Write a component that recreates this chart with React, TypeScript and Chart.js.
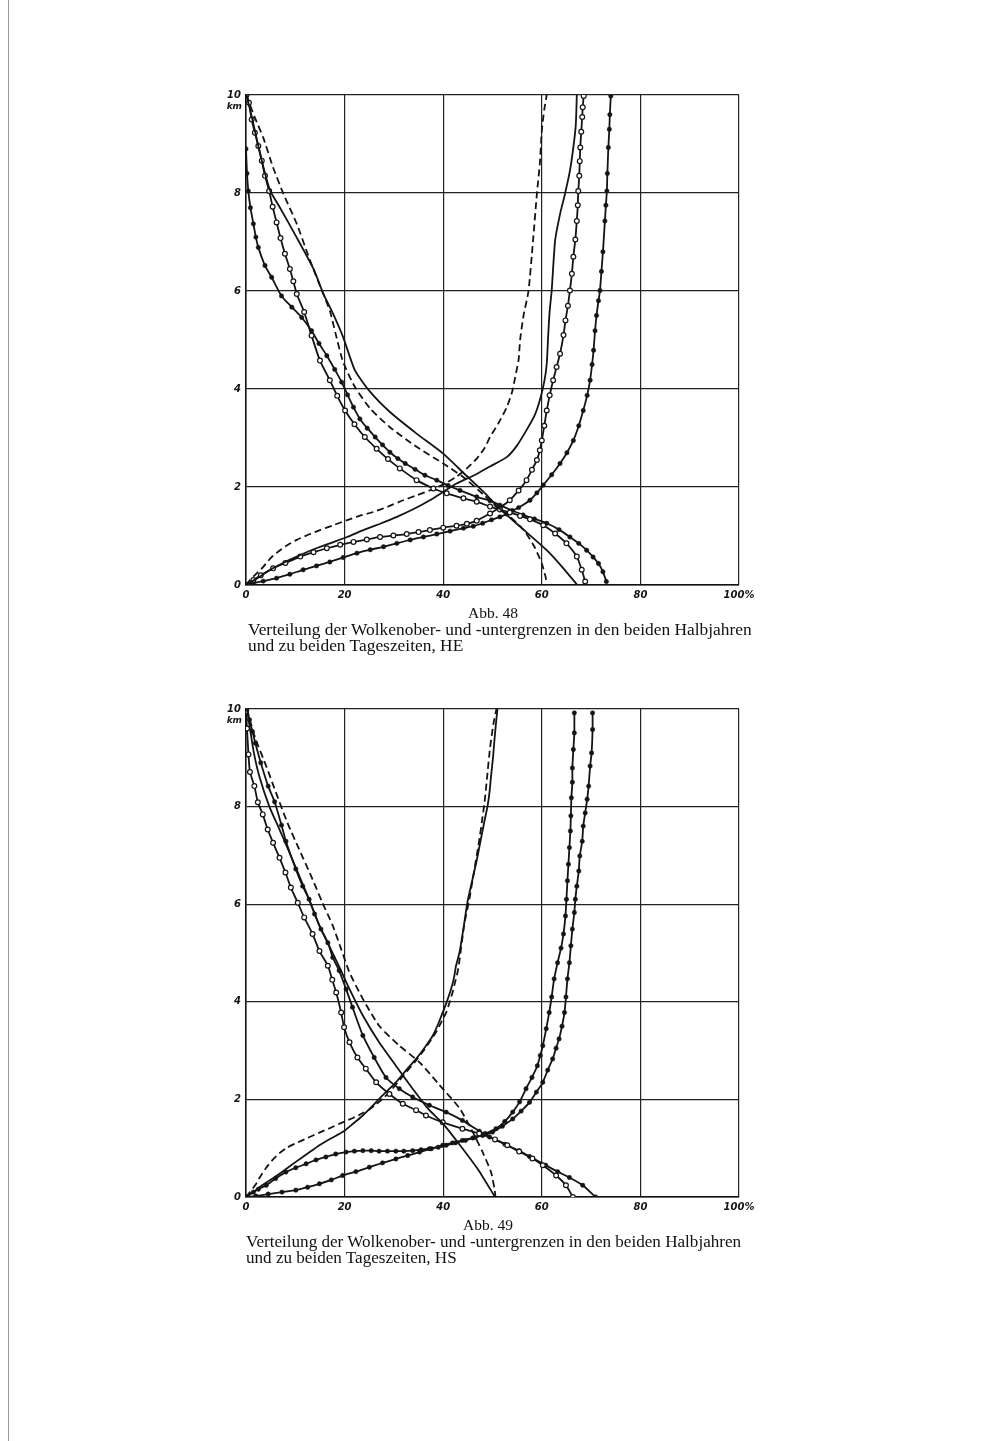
import React, { useEffect, useRef } from "react";
import { Chart, registerables } from "chart.js";

Chart.register(...registerables);

type Pt = [number, number];
type Style = "solid" | "dashed" | "filled" | "open";

// Axis ticks
const X_TICKS = [0, 20, 40, 60, 80, 100];
const Y_TICKS = [0, 2, 4, 6, 8, 10];

// ---------- Abb. 48 (HE) : [percent, km] ----------
const HE_OBER_SOLID: Pt[] = [[0.1,10],[1.3,9.5],[2.4,9.0],[3.6,8.5],[4.9,8.05],[6.9,7.7],[10.3,7.09],[13.7,6.45],[15.7,5.94],[17.7,5.53],[19.7,5.06],[22.1,4.38],[25.2,3.94],[29.2,3.53],[34.6,3.09],[40,2.68],[44.5,2.25],[48.5,1.87],[51,1.6],[55.6,1.19],[61,0.71],[64.2,0.36],[67.2,0]];
const HE_OBER_DASHED: Pt[] = [[0.1,10],[0.5,9.88],[1.8,9.54],[3.5,9.13],[5.5,8.52],[7.6,7.98],[10.3,7.37],[13,6.62],[15.4,6.01],[17,5.6],[18.2,5.12],[19.7,4.55],[22.1,4.04],[25.2,3.6],[29.2,3.22],[34.6,2.82],[40,2.48],[44.1,2.2],[48.1,1.85],[51.2,1.56],[53.5,1.4],[56.5,1.1],[58.5,0.78],[60,0.44],[60.8,0.15],[61,0]];
const HE_OBER_OPEN: Pt[] = [[0.1,10],[0.6,9.84],[1.15,9.5],[1.8,9.23],[2.5,8.96],[3.2,8.66],[3.85,8.35],[4.7,8.04],[5.4,7.72],[6.2,7.4],[7.0,7.08],[7.9,6.76],[8.9,6.45],[9.6,6.2],[10.3,5.94],[11.8,5.57],[13.3,5.09],[15,4.58],[17,4.18],[18.5,3.86],[20.1,3.56],[22,3.28],[24.1,3.02],[26.5,2.78],[28.8,2.57],[31.2,2.38],[34.6,2.14],[38,1.97],[40.7,1.87],[44.1,1.77],[46.8,1.7],[49.5,1.6],[51.5,1.54],[53.5,1.48],[55.6,1.41],[57.6,1.34],[60.3,1.22],[62.7,1.05],[65,0.85],[67.1,0.58],[68.1,0.31],[68.8,0.07]];
const HE_OBER_FILLED: Pt[] = [[0,8.9],[0.2,8.4],[0.47,8.04],[0.9,7.7],[1.5,7.37],[2.0,7.1],[2.5,6.89],[3.85,6.52],[5.2,6.28],[7.2,5.9],[9.3,5.67],[11.3,5.46],[13.3,5.19],[14.8,4.93],[16.4,4.68],[18,4.4],[19.4,4.14],[20.6,3.88],[21.8,3.63],[23.1,3.39],[24.6,3.2],[26.2,3.02],[27.7,2.86],[29.2,2.71],[30.8,2.58],[32.3,2.48],[34.3,2.36],[36.3,2.24],[38.7,2.14],[41,2.03],[43.4,1.93],[46.8,1.8],[49.5,1.72],[51.5,1.63],[54,1.52],[56.2,1.43],[58.5,1.35],[61,1.26],[63.5,1.13],[65.7,0.98],[67.5,0.85],[69.1,0.71],[70.4,0.57],[71.5,0.44],[72.4,0.27],[73.1,0.07]];

const HE_UNTER_SOLID: Pt[] = [[0,0],[2,0.12],[4.9,0.31],[7.5,0.45],[10.3,0.58],[13.5,0.72],[17,0.85],[20.5,0.98],[23.8,1.12],[27.2,1.25],[30.6,1.39],[34,1.55],[37.3,1.73],[40,1.9],[42.7,2.07],[46.5,2.25],[49.5,2.42],[52.9,2.61],[55,2.85],[56.9,3.16],[58.5,3.45],[59.6,3.77],[60.5,4.15],[61,4.51],[61.3,5.1],[61.6,5.6],[62,6.0],[62.7,7.03],[63.7,7.57],[64.7,7.98],[65.7,8.45],[66.4,8.93],[66.9,9.4],[67.1,10]];
const HE_UNTER_DASHED: Pt[] = [[0,0],[0.8,0.1],[2,0.22],[3.5,0.37],[5,0.55],[6.9,0.71],[8.5,0.82],[10.3,0.92],[12.5,1.02],[15,1.12],[17.7,1.22],[20.4,1.32],[23,1.41],[25.8,1.49],[28.8,1.6],[31.9,1.73],[34.6,1.83],[37.3,1.93],[40,2.05],[42.7,2.21],[44.8,2.38],[46.8,2.58],[48.3,2.78],[49.5,3.02],[51.2,3.3],[52.9,3.63],[54,3.95],[54.6,4.24],[55.3,4.6],[55.6,5.0],[56.3,5.5],[57.3,6.0],[58.2,7.0],[59,7.98],[59.6,8.6],[60,9.27],[60.5,9.7],[61,10]];
const HE_UNTER_OPEN: Pt[] = [[0,0],[1.5,0.1],[3,0.2],[5.5,0.34],[8,0.45],[11,0.58],[13.7,0.67],[16.4,0.75],[19.1,0.82],[21.8,0.88],[24.5,0.93],[27.2,0.98],[29.9,1.01],[32.6,1.04],[35,1.08],[37.3,1.12],[40,1.17],[42.7,1.21],[44.8,1.25],[46.8,1.31],[49.5,1.46],[51.5,1.58],[53.5,1.73],[55.3,1.93],[56.9,2.14],[58,2.35],[59,2.55],[59.6,2.75],[60,2.95],[60.5,3.25],[61,3.56],[61.6,3.87],[62.3,4.18],[63,4.45],[63.7,4.72],[64.4,5.1],[64.8,5.4],[65.3,5.7],[65.7,6.01],[66.1,6.35],[66.4,6.7],[66.8,7.05],[67.1,7.43],[67.3,7.75],[67.4,8.04],[67.6,8.35],[67.7,8.65],[67.8,8.93],[68,9.25],[68.2,9.55],[68.3,9.75],[68.5,9.98]];
const HE_UNTER_FILLED: Pt[] = [[0,0],[1.5,0.04],[3.5,0.08],[6.2,0.14],[8.9,0.22],[11.6,0.31],[14.3,0.39],[17,0.47],[19.7,0.56],[22.5,0.65],[25.2,0.72],[27.9,0.78],[30.6,0.85],[33.3,0.92],[36,0.98],[38.7,1.04],[41.4,1.1],[44.1,1.16],[46.1,1.2],[48,1.26],[49.8,1.33],[51.5,1.39],[52.9,1.45],[55.3,1.58],[57.6,1.73],[59,1.88],[60.3,2.04],[62,2.25],[63.7,2.48],[65.1,2.7],[66.4,2.95],[67.5,3.25],[68.4,3.56],[69.2,3.87],[69.8,4.18],[70.2,4.5],[70.5,4.79],[70.8,5.19],[71.1,5.5],[71.5,5.8],[71.8,6.01],[72.1,6.4],[72.4,6.8],[72.8,7.43],[73,7.75],[73.2,8.04],[73.3,8.4],[73.5,8.93],[73.7,9.3],[73.8,9.6],[74,9.98]];

// ---------- Abb. 49 (HS) : [percent, km] ----------
const HS_OBER_SOLID: Pt[] = [[0.2,10],[0.8,9.6],[1.6,9.1],[2.7,8.62],[4.7,8.01],[6.8,7.53],[8.8,7.06],[10.8,6.58],[12.8,6.1],[14.9,5.56],[17,5.12],[19,4.7],[21,4.26],[23.7,3.72],[27,3.17],[30.4,2.69],[33.8,2.22],[37,1.8],[40,1.5],[43.5,1.05],[47.3,0.53],[50.5,0]];
const HS_OBER_DASHED: Pt[] = [[0.2,10],[1,9.7],[2,9.37],[4.1,8.83],[6.1,8.28],[8.4,7.67],[10.8,7.12],[13.5,6.51],[15.5,6.03],[17.6,5.56],[19.3,5.08],[21,4.6],[23.7,4.06],[27,3.51],[31.1,3.1],[35.2,2.76],[39.2,2.3],[43.3,1.82],[46,1.33],[48,0.92],[49.7,0.51],[50.4,0.17],[50.6,0]];
const HS_OBER_OPEN: Pt[] = [[0,9.95],[0.2,9.6],[0.5,9.07],[0.8,8.71],[1.7,8.42],[2.4,8.09],[3.4,7.84],[4.4,7.53],[5.5,7.26],[6.8,6.95],[8,6.65],[9.1,6.34],[10.5,6.03],[11.8,5.73],[13.5,5.39],[14.9,5.04],[16.6,4.74],[17.5,4.45],[18.3,4.19],[19.3,3.78],[19.9,3.48],[21,3.17],[22.6,2.86],[24.3,2.63],[26.4,2.35],[29.1,2.11],[31.8,1.91],[34.5,1.78],[36.5,1.67],[39.9,1.53],[43.9,1.4],[47.3,1.3],[50.5,1.18],[53,1.06],[55.4,0.93],[58.1,0.79],[60.2,0.65],[62.9,0.44],[64.9,0.24],[66.3,0]];
const HS_OBER_FILLED: Pt[] = [[0.2,10],[0.7,9.78],[1.3,9.54],[1.9,9.3],[3,8.9],[4.5,8.42],[5.8,8.1],[7.2,7.62],[8.1,7.29],[10.1,6.72],[11.5,6.37],[12.8,6.1],[13.9,5.8],[15.2,5.49],[16.6,5.21],[17.6,4.91],[18.9,4.64],[20.3,4.26],[21.6,3.89],[23.7,3.31],[26,2.86],[28.4,2.45],[31.1,2.22],[33.8,2.05],[37.2,1.88],[40.6,1.74],[43.9,1.57],[47.3,1.35],[49.4,1.23],[52.5,1.08],[55.4,0.95],[57.5,0.83],[60.8,0.65],[63.2,0.52],[65.6,0.4],[68.3,0.24],[70.9,0]];

const HS_UNTER_SOLID: Pt[] = [[0,0],[1.5,0.1],[3,0.22],[5.4,0.38],[7.8,0.55],[10.1,0.72],[12.5,0.89],[14.9,1.06],[17.2,1.2],[19.6,1.33],[21.7,1.5],[23.7,1.67],[25.4,1.84],[27,2.01],[28.7,2.18],[30.4,2.35],[32.5,2.6],[34.5,2.83],[36.3,3.07],[37.9,3.31],[39,3.55],[39.9,3.78],[40.8,4.02],[41.6,4.26],[42.2,4.5],[42.6,4.74],[43.3,5.01],[44.1,5.5],[44.9,6.03],[45.8,6.45],[46.7,6.85],[47.5,7.26],[48.3,7.67],[49,8.01],[49.4,8.3],[49.7,8.62],[50.1,9.0],[50.4,9.37],[50.7,9.7],[51,10]];
const HS_UNTER_DASHED: Pt[] = [[0,0],[0.8,0.1],[2,0.26],[2.9,0.42],[4.1,0.6],[5.3,0.75],[6.8,0.9],[8.3,1.01],[10.1,1.1],[12.5,1.21],[14.9,1.32],[17.2,1.42],[19.6,1.53],[21.7,1.62],[23.7,1.72],[25.1,1.8],[26.4,1.9],[27.8,2.02],[29.1,2.15],[30.8,2.35],[32.5,2.56],[34.2,2.76],[35.8,2.97],[37.2,3.17],[38.5,3.37],[39.6,3.58],[40.6,3.78],[41.3,3.99],[41.9,4.19],[42.4,4.4],[42.9,4.6],[43.3,4.85],[43.6,5.08],[44.3,5.6],[45.3,6.1],[46.3,6.7],[47.3,7.3],[48,7.8],[48.4,8.1],[48.9,8.6],[49.5,9.2],[50.2,9.7],[50.8,10]];
const HS_UNTER_PLATEAU: Pt[] = [[0,0],[1.5,0.1],[2.5,0.16],[4.1,0.24],[6,0.38],[8.1,0.51],[10.1,0.6],[12.2,0.68],[14.2,0.76],[16.2,0.82],[18.2,0.88],[20.3,0.92],[22,0.94],[23.7,0.95],[25.4,0.95],[27,0.94],[28.7,0.94],[30.4,0.94],[32,0.94],[33.8,0.95],[35.5,0.97],[37.2,0.99],[39,1.02],[40.6,1.06],[42.5,1.11],[44.5,1.16],[46.5,1.22],[48.5,1.3],[50.7,1.4],[52.5,1.55],[54.1,1.74],[55.5,1.95],[56.8,2.22],[58,2.45],[59.1,2.69],[59.7,2.9],[60.2,3.1],[60.9,3.45],[61.5,3.78],[62,4.1],[62.5,4.47],[63.2,4.8],[63.9,5.1],[64.4,5.39],[64.8,5.76],[65,6.1],[65.2,6.48],[65.4,6.82],[65.6,7.16],[65.8,7.5],[65.9,7.81],[66,8.18],[66.2,8.5],[66.2,8.79],[66.4,9.17],[66.6,9.51],[66.6,9.92]];
const HS_UNTER_STRAIGHT: Pt[] = [[0,0],[2,0.02],[4.5,0.06],[7.3,0.1],[10.1,0.14],[12.5,0.2],[14.9,0.27],[17.3,0.35],[19.6,0.44],[22.3,0.52],[25,0.61],[27.7,0.7],[30.4,0.78],[32.8,0.85],[35.2,0.92],[37.6,0.99],[39.9,1.06],[41.9,1.11],[43.9,1.16],[46,1.21],[48,1.26],[50,1.33],[52,1.45],[54.1,1.6],[55.8,1.76],[57.5,1.94],[58.9,2.15],[60.2,2.35],[61.2,2.6],[62.2,2.83],[62.9,3.05],[63.5,3.24],[64.1,3.5],[64.6,3.78],[64.9,4.1],[65.2,4.47],[65.6,4.8],[65.9,5.15],[66.2,5.49],[66.6,5.83],[66.8,6.1],[67.1,6.37],[67.5,6.68],[67.7,6.99],[68.2,7.29],[68.4,7.6],[68.8,7.87],[69.2,8.15],[69.5,8.42],[69.8,8.83],[70.1,9.1],[70.3,9.58],[70.3,9.92]];

const INK = "#141414";
const TICK_FONT = { family: "'DejaVu Sans'", size: 10, style: "italic" as const, weight: "bold" as const };

function makeDataset(points: Pt[], style: Style) {
  const base: any = {
    data: points.map(([x, y]) => ({ x, y })),
    showLine: true,
    borderColor: INK,
    borderWidth: 1.8,
    tension: 0.2,
    fill: false,
    pointRadius: 0,
    pointHoverRadius: 0,
  };
  if (style === "dashed") base.borderDash = [7, 4];
  if (style === "filled") {
    base.pointRadius = 2.2;
    base.pointBackgroundColor = INK;
    base.pointBorderColor = INK;
    base.pointBorderWidth = 0.5;
  }
  if (style === "open") {
    base.pointRadius = 2.4;
    base.pointBackgroundColor = "#ffffff";
    base.pointBorderColor = INK;
    base.pointBorderWidth = 1.2;
  }
  return base;
}

const kmPlugin = {
  id: "kmLabel",
  afterDraw(chart: any) {
    const ys = chart.scales.y;
    const ctx = chart.ctx;
    ctx.save();
    ctx.font = "italic bold 9px 'DejaVu Sans'";
    ctx.fillStyle = INK;
    ctx.textAlign = "right";
    ctx.textBaseline = "middle";
    ctx.fillText("km", chart.chartArea.left - 4, ys.getPixelForValue(10) + 12);
    ctx.restore();
  },
};

type Series = { points: Pt[]; style: Style };

const CANVAS_W = 553;
const Y_AXIS_W = 40;
const X_AXIS_H = 30;
const PAD_TOP = 10;
const PAD_RIGHT = 20;

function CurveChart({ top, plotHeight, series }: { top: number; plotHeight: number; series: Series[] }) {
  const ref = useRef<HTMLCanvasElement | null>(null);
  const h = PAD_TOP + plotHeight + X_AXIS_H;
  useEffect(() => {
    if (!ref.current) return;
    const chart = new Chart(ref.current, {
      type: "scatter",
      data: { datasets: series.map((s) => makeDataset(s.points, s.style)) },
      options: {
        animation: false,
        responsive: false,
        devicePixelRatio: 1,
        events: [],
        layout: { padding: { top: PAD_TOP, right: PAD_RIGHT, left: 0, bottom: 0 } },
        plugins: { legend: { display: false }, tooltip: { enabled: false } },
        scales: {
          x: {
            type: "linear",
            min: 0,
            max: 100,
            afterBuildTicks: (s: any) => {
              s.ticks = X_TICKS.map((v) => ({ value: v }));
            },
            afterFit: (s: any) => {
              s.height = X_AXIS_H;
            },
            grid: { color: "#222", lineWidth: 1.2, drawTicks: false },
            border: { color: "#111", width: 1.5 },
            ticks: {
              autoSkip: false,
              maxRotation: 0,
              padding: 4,
              color: INK,
              font: TICK_FONT,
              callback: (v: any) => (Number(v) === 100 ? "100%" : String(v)),
            },
          },
          y: {
            type: "linear",
            min: 0,
            max: 10,
            afterBuildTicks: (s: any) => {
              s.ticks = Y_TICKS.map((v) => ({ value: v }));
            },
            afterFit: (s: any) => {
              s.width = Y_AXIS_W;
            },
            grid: { color: "#222", lineWidth: 1.2, drawTicks: false },
            border: { color: "#111", width: 1.5 },
            ticks: {
              autoSkip: false,
              padding: 5,
              color: INK,
              font: TICK_FONT,
              callback: (v: any) => String(v),
            },
          },
        },
      } as any,
      plugins: [kmPlugin],
    });
    return () => chart.destroy();
  }, []);
  return (
    <canvas
      ref={ref}
      width={CANVAS_W}
      height={h}
      style={{ position: "absolute", left: 246 - Y_AXIS_W, top: top - PAD_TOP, width: CANVAS_W, height: h }}
    />
  );
}

const HE_SERIES: Series[] = [
  { points: HE_OBER_SOLID, style: "solid" },
  { points: HE_OBER_DASHED, style: "dashed" },
  { points: HE_OBER_OPEN, style: "open" },
  { points: HE_OBER_FILLED, style: "filled" },
  { points: HE_UNTER_SOLID, style: "solid" },
  { points: HE_UNTER_DASHED, style: "dashed" },
  { points: HE_UNTER_OPEN, style: "open" },
  { points: HE_UNTER_FILLED, style: "filled" },
];

const HS_SERIES: Series[] = [
  { points: HS_OBER_SOLID, style: "solid" },
  { points: HS_OBER_DASHED, style: "dashed" },
  { points: HS_OBER_OPEN, style: "open" },
  { points: HS_OBER_FILLED, style: "filled" },
  { points: HS_UNTER_SOLID, style: "solid" },
  { points: HS_UNTER_DASHED, style: "dashed" },
  { points: HS_UNTER_PLATEAU, style: "filled" },
  { points: HS_UNTER_STRAIGHT, style: "filled" },
];

const captionFont = "'Liberation Serif', 'DejaVu Serif', serif";

function Caption({ abb, abbLeft, abbTop, lineTop, lines, left, size }: { abb: string; abbLeft: number; abbTop: number; lineTop: number; lines: string[]; left: number; size: number }) {
  return (
    <>
      <div style={{ position: "absolute", left: abbLeft, top: abbTop, fontFamily: captionFont, fontSize: 15.5, lineHeight: "15px", color: "#111", whiteSpace: "nowrap" }}>{abb}</div>
      <div style={{ position: "absolute", left, top: lineTop, fontFamily: captionFont, fontSize: size, lineHeight: "15.5px", color: "#111", whiteSpace: "nowrap" }}>
        {lines.map((l, i) => (
          <div key={i}>{l}</div>
        ))}
      </div>
    </>
  );
}

export default function App() {
  return (
    <div style={{ position: "absolute", left: 0, top: 0, width: 1000, height: 1441, background: "#ffffff", overflow: "hidden" }}>
      <div style={{ position: "absolute", left: 8, top: 0, width: 1, height: 1441, background: "#9a9a9a" }} />
      <CurveChart top={94} plotHeight={491} series={HE_SERIES} />
      <Caption
        abb="Abb. 48"
        abbLeft={468}
        abbTop={605}
        left={248}
        lineTop={622}
        size={17.4}
        lines={["Verteilung der Wolkenober- und -untergrenzen in den beiden Halbjahren", "und zu beiden Tageszeiten, HE"]}
      />
      <CurveChart top={708} plotHeight={489} series={HS_SERIES} />
      <Caption
        abb="Abb. 49"
        abbLeft={463}
        abbTop={1217}
        left={246}
        lineTop={1234}
        size={17.1}
        lines={["Verteilung der Wolkenober- und -untergrenzen in den beiden Halbjahren", "und zu beiden Tageszeiten, HS"]}
      />
    </div>
  );
}
